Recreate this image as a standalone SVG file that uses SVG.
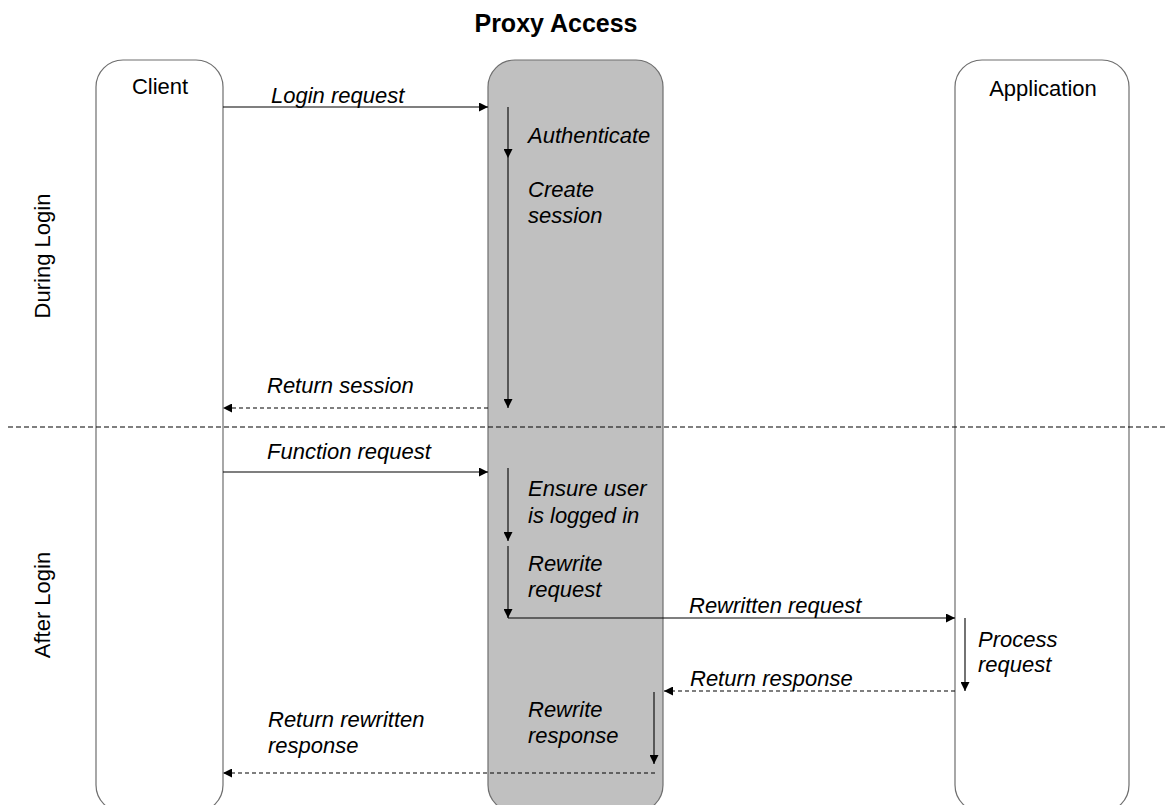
<svg xmlns="http://www.w3.org/2000/svg" width="1166" height="805" viewBox="0 0 1166 805">
  <style>
    text { font-family: "Liberation Sans", Arial, sans-serif; fill: #000; }
    .title { font-size: 25px; font-weight: bold; }
    .head { font-size: 22px; }
    .lbl { font-size: 22px; font-style: italic; }
    .lane { stroke: #6e6e6e; stroke-width: 1.2; }
    .msg { stroke: #000; stroke-width: 1.1; fill: none; }
    .ret { stroke: #000; stroke-width: 1.1; fill: none; stroke-dasharray: 4 3; }
    .sep { stroke: #000; stroke-width: 1.1; stroke-dasharray: 5 3; }
  </style>
  <defs>
    <marker id="ah" viewBox="0 0 10 10" refX="10" refY="5" markerWidth="9" markerHeight="9" markerUnits="userSpaceOnUse" orient="auto">
      <path d="M0,0 L10,5 L0,10 Z" fill="#000"/>
    </marker>
  </defs>

  <rect width="1166" height="805" fill="#fff"/>

  <text class="title" x="556" y="32" text-anchor="middle">Proxy Access</text>

  <g id="client">
    <rect class="lane" x="96" y="60" width="127" height="752" rx="27" ry="27" fill="#fff"/>
    <text class="head" x="160" y="94" text-anchor="middle">Client</text>
  </g>

  <g id="proxy">
    <rect class="lane" x="488" y="60" width="175" height="752" rx="27" ry="27" fill="#c0c0c0"/>
    <text class="lbl" x="528" y="143">Authenticate</text>
    <text class="lbl" x="528" y="197">Create</text>
    <text class="lbl" x="528" y="223">session</text>
    <text class="lbl" x="528" y="496">Ensure user</text>
    <text class="lbl" x="528" y="523">is logged in</text>
    <text class="lbl" x="528" y="571">Rewrite</text>
    <text class="lbl" x="528" y="597">request</text>
    <text class="lbl" x="528" y="717">Rewrite</text>
    <text class="lbl" x="528" y="743">response</text>
  </g>

  <g id="application">
    <rect class="lane" x="955" y="60" width="174" height="752" rx="27" ry="27" fill="#fff"/>
    <text class="head" x="1043" y="96" text-anchor="middle">Application</text>
    <text class="lbl" x="978" y="647">Process</text>
    <text class="lbl" x="978" y="672">request</text>
  </g>

  <g id="phases">
    <line class="sep" x1="8" y1="427" x2="1166" y2="427"/>
    <text class="head" transform="translate(50,256) rotate(-90)" text-anchor="middle">During Login</text>
    <text class="head" transform="translate(50,605) rotate(-90)" text-anchor="middle">After Login</text>
  </g>

  <g id="connectors">
    <!-- login phase -->
    <line class="msg" x1="223" y1="107" x2="488" y2="107" marker-end="url(#ah)"/>
    <text class="lbl" x="271" y="103">Login request</text>
    <line class="msg" x1="508" y1="107" x2="508" y2="158" marker-end="url(#ah)"/>
    <line class="msg" x1="508" y1="158" x2="508" y2="408" marker-end="url(#ah)"/>
    <line class="ret" x1="488" y1="408" x2="223" y2="408" marker-end="url(#ah)"/>
    <text class="lbl" x="267" y="393">Return session</text>

    <!-- after login -->
    <line class="msg" x1="223" y1="472" x2="488" y2="472" marker-end="url(#ah)"/>
    <text class="lbl" x="267" y="459">Function request</text>
    <line class="msg" x1="508" y1="468" x2="508" y2="541" marker-end="url(#ah)"/>
    <line class="msg" x1="508" y1="546" x2="508" y2="618" marker-end="url(#ah)"/>
    <line class="msg" x1="508" y1="618" x2="955" y2="618" marker-end="url(#ah)"/>
    <text class="lbl" x="689" y="613">Rewritten request</text>
    <line class="msg" x1="965" y1="618" x2="965" y2="691" marker-end="url(#ah)"/>
    <line class="ret" x1="955" y1="691" x2="664" y2="691" marker-end="url(#ah)"/>
    <text class="lbl" x="690" y="686">Return response</text>
    <line class="msg" x1="654" y1="692" x2="654" y2="764" marker-end="url(#ah)"/>
    <line class="ret" x1="655" y1="773" x2="223" y2="773" marker-end="url(#ah)"/>
    <text class="lbl" x="268" y="727">Return rewritten</text>
    <text class="lbl" x="268" y="753">response</text>
  </g>
</svg>
